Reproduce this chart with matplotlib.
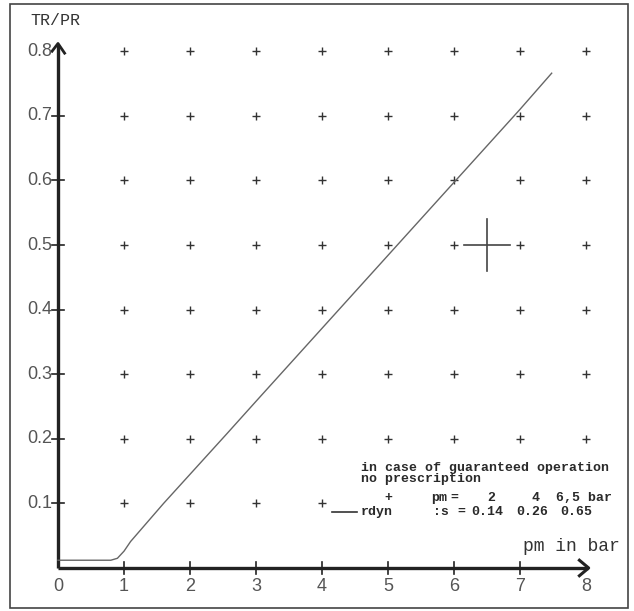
import numpy as np
import matplotlib
matplotlib.use('Agg')
from matplotlib import pyplot as plt
from matplotlib.patches import Rectangle

# curve TR/PR over pm
curve_x = [0.0, 0.5, 0.80, 0.90, 1.0, 1.1, 1.6, 2.0, 2.56, 3.0, 4.0, 5.0, 6.0, 7.0, 7.48]
curve_y = [0.012, 0.012, 0.012, 0.015, 0.026, 0.041, 0.100, 0.145, 0.208, 0.258, 0.371, 0.484, 0.597, 0.710, 0.766]

x_ticks = [0, 1, 2, 3, 4, 5, 6, 7, 8]
y_ticks = [0.1, 0.2, 0.3, 0.4, 0.5, 0.6, 0.7, 0.8]
x_labels = ['0', '1', '2', '3', '4', '5', '6', '7', '8']
y_labels = ['0.1', '0.2', '0.3', '0.4', '0.5', '0.6', '0.7', '0.8']

grid_x = [1, 2, 3, 4, 5, 6, 7, 8]
grid_y = [0.1, 0.2, 0.3, 0.4, 0.5, 0.6, 0.7, 0.8]
# grid points hidden under the note block
grid_hidden = [(5, 0.1), (6, 0.1), (7, 0.1), (8, 0.1)]

big_cross = (6.5, 0.5)

pm_vals = ['2', '4', '6,5 bar']
s_vals = ['0.14', '0.26', '0.65']

axc = '#222222'
txtc = '#555555'
notec = '#2a2a2a'
mono = 'Liberation Mono'

fig = plt.figure(figsize=(6.34, 6.11), dpi=100)
ax = fig.add_axes([0, 0, 1, 1])
ax.set_xlim(-0.8788, 8.7273)
ax.set_ylim(-0.0666, 0.8793)
ax.axis('off')

# outer frame
ax.add_patch(Rectangle((0.0152, 0.0049), 0.9747, 0.9886, transform=ax.transAxes,
                       fill=False, edgecolor='#444444', lw=1.2))

# grid of small crosses
pts = [(x, y) for y in grid_y for x in grid_x if (x, y) not in grid_hidden]
ax.plot([p[0] for p in pts], [p[1] for p in pts], '+', color='#333333', ms=6, mew=1.0)

# big cross
ax.plot([big_cross[0] - 0.35, big_cross[0] + 0.35], [big_cross[1], big_cross[1]], color='#444444', lw=1.2)
ax.plot([big_cross[0], big_cross[0]], [big_cross[1] - 0.04, big_cross[1] + 0.04], color='#444444', lw=1.2)

# axes with arrows
ax.plot([0, 8.03], [0, 0], color=axc, lw=2.4, solid_capstyle='butt')
ax.plot([0, 0], [0, 0.81], color=axc, lw=2.4, solid_capstyle='butt')
ax.plot([7.9, 8.04, 7.9], [0.012, 0, -0.012], color=axc, lw=2.2)
ax.plot([-0.09, 0, 0.1], [0.8, 0.812, 0.797], color=axc, lw=2.0)

# ticks
for xt in x_ticks[1:-1]:
    ax.plot([xt, xt], [-0.009, 0.009], color=axc, lw=1.2)
for yt in y_ticks[:-1]:
    ax.plot([-0.09, 0.09], [yt, yt], color=axc, lw=1.2)

for xt, lab in zip(x_ticks, x_labels):
    ax.text(xt, -0.029, lab, ha='center', va='center', fontsize=13,
            family='Liberation Sans', color=txtc)
for yt, lab in zip(y_ticks, y_labels):
    ax.text(-0.09, yt, lab, ha='right', va='center', fontsize=13,
            family='Liberation Sans', color=txtc)

# curve
ax.plot(curve_x, curve_y, color='#666666', lw=1.0)

# axis titles
ax.text(-0.42, 0.847, 'TR/PR', ha='left', va='center', fontsize=12, family=mono, color='#333333')
ax.text(7.05, 0.0325, 'pm in bar', ha='left', va='center', fontsize=13, family=mono, color='#333333')

# note block
kw = dict(va='center', fontsize=9.5, family=mono, color=notec, fontweight='bold')
ax.text(4.59, 0.155, 'in case of guaranteed operation', ha='left', **kw)
ax.text(4.59, 0.137, 'no prescription', ha='left', **kw)
ax.text(5.00, 0.108, '+', ha='center', **kw)
ax.text(5.65, 0.108, 'pm', ha='left', **kw)
ax.text(6.00, 0.108, '=', ha='center', **kw)
ax.text(6.56, 0.108, pm_vals[0], ha='center', **kw)
ax.text(7.24, 0.108, pm_vals[1], ha='center', **kw)
ax.text(7.55, 0.108, pm_vals[2], ha='left', **kw)
ax.plot([4.15, 4.53], [0.087, 0.087], color='#333333', lw=1.2)
ax.text(4.58, 0.087, 'rdyn', ha='left', **kw)
ax.text(5.68, 0.087, ':s', ha='left', **kw)
ax.text(6.11, 0.087, '=', ha='center', **kw)
for xs, v in zip([6.26, 6.94, 7.61], s_vals):
    ax.text(xs, 0.087, v, ha='left', **kw)

fig.savefig('out.png', dpi=100)
